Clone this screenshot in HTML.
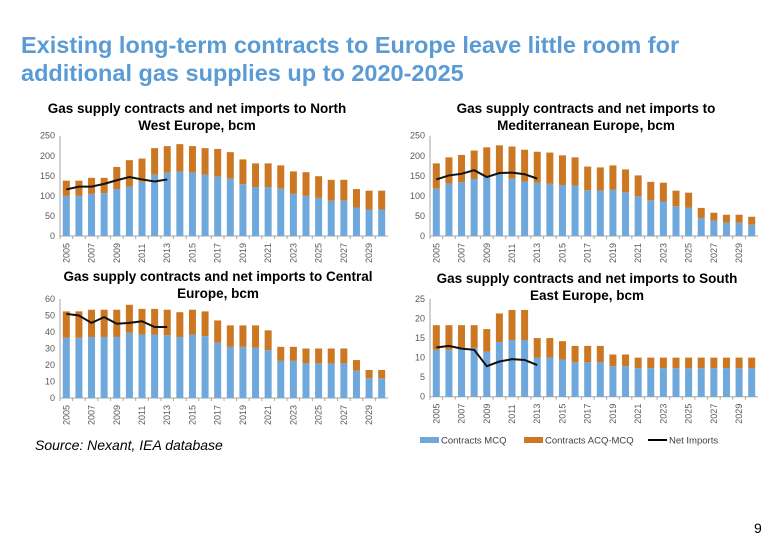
<!DOCTYPE html>
<html><head><meta charset="utf-8"><style>
body{margin:0;background:#fff;width:780px;height:540px;overflow:hidden;font-family:"Liberation Sans",sans-serif}
svg text{font-family:"Liberation Sans",sans-serif}
</style></head><body>
<svg id="s" width="780" height="540">
<text x="21" y="53" font-size="23.5" font-weight="bold" fill="#5b9bd5">Existing long-term contracts to Europe leave little room for</text>
<text x="21" y="81" font-size="23.5" font-weight="bold" fill="#5b9bd5">additional gas supplies up to 2020-2025</text>
<text x="35" y="450" font-size="14" font-style="italic" fill="#000">Source: Nexant, IEA database</text>
<text x="754" y="533" font-size="14" fill="#000">9</text>
<g>
<rect x="420" y="437" width="19" height="6" fill="#6fa8dc"/>
<text x="441" y="443.5" font-size="9.5" fill="#404040">Contracts MCQ</text>
<rect x="524" y="437" width="19" height="6" fill="#cc7722"/>
<text x="545" y="443.5" font-size="9.5" fill="#404040">Contracts ACQ-MCQ</text>
<line x1="648" y1="440" x2="667" y2="440" stroke="#000" stroke-width="2"/>
<text x="669" y="443.5" font-size="9.5" fill="#404040">Net Imports</text>
</g>
</svg>
<script>
const years=[2005,2006,2007,2008,2009,2010,2011,2012,2013,2014,2015,2016,2017,2018,2019,2020,2021,2022,2023,2024,2025,2026,2027,2028,2029,2030];
const nwTotal=[138,138,145,145,172,189,193,219,224,229,224,219,217,209,191,181,181,176,161,159,149,140,140,117,113,113];
const nwMcq=[100,100,105,107,117,123,135,153,158,161,158,153,148,143,129,122,122,118,105,100,95,88,88,71,66,66];
const nwNet=[116,123,123,130,139,147,141,136,141];
const medTotal=[181,196,202,213,221,226,223,215,210,208,201,196,173,171,176,166,151,135,133,113,108,70,58,53,53,48];
const medMcq=[118,131,134,142,148,153,143,136,133,130,127,126,114,113,115,109,99,89,86,74,71,45,38,33,33,28];
const medNet=[141,151,155,164,147,157,158,154,143];
const ceTotal=[52.5,52.5,53.5,53.5,53.5,56.5,54,54,53.5,52,53.5,52.5,47,44,44,44,41,31,31,30,30,30,30,23,17,17];
const ceMcq=[36.5,36.5,37,37,37,39.5,38.5,38.5,38,37,38.5,37.5,33.5,31,31,30.5,29,22.5,22.5,21,21,21,21,16.5,12,12];
const ceNet=[51,50,45.5,49,45,45.5,46.5,43,43];
const seTotal=[18.3,18.3,18.3,18.3,17.3,21.3,22.2,22.2,15,15,14.2,13,13,13,10.8,10.8,10,10,10,10,10,10,10,10,10,10];
const seMcq=[12,12,12.5,12.5,11.5,14,14.5,14.5,10,10,9.5,8.8,8.8,8.8,7.8,7.8,7.3,7.3,7.3,7.3,7.3,7.3,7.3,7.3,7.3,7.3];
const seNet=[12.6,13,12.3,12,7.8,9,9.6,9.4,8.1];
const nwTicks=[0,50,100,150,200,250];
const ceTicks=[0,10,20,30,40,50,60];
const seTicks=[0,5,10,15,20,25];
const NS='http://www.w3.org/2000/svg';
const svg=document.getElementById('s');
function mk(tag,attrs,parent){const e=document.createElementNS(NS,tag);for(const k in attrs)e.setAttribute(k,attrs[k]);(parent||svg).appendChild(e);return e;}
function panel(id,title,cx,ty,x0,x1,yTop,yBot,ticks,total,mcq,net){
  const g=mk('g',{});
  
  
  const max=ticks[ticks.length-1];
  const y=v=>yBot-(v/max)*(yBot-yTop);
  const bw=(x1-x0)/years.length;
  const x=i=>x0+bw*(i+0.5);
  title.forEach((t,k)=>{const e=mk('text',{x:cx,y:ty+k*17,'font-size':13.5,'font-weight':'bold','text-anchor':'middle',fill:'#000',textLength:t.length>30?null:null},g);e.removeAttribute('textLength');e.textContent=t;
    
    });
  ticks.forEach(t=>{const e=mk('text',{x:x0-5,y:y(t)+3,'font-size':9,'text-anchor':'end',fill:'#595959'},g);e.textContent=t;
    
    });
  mk('line',{x1:x0,y1:yTop,x2:x0,y2:yBot,stroke:'#a6a6a6','stroke-width':1},g);
  mk('line',{x1:x0,y1:yBot,x2:x1,y2:yBot,stroke:'#a6a6a6','stroke-width':1},g);
  years.forEach((yr,i)=>{
    mk('line',{x1:x0+bw*i,y1:yBot,x2:x0+bw*i,y2:yBot+3,stroke:'#a6a6a6'},g);
    const b=mk('rect',{x:x(i)-3.5,y:y(mcq[i]),width:7,height:yBot-y(mcq[i]),fill:'#6fa8dc'},g);
    
    
    const o=mk('rect',{x:x(i)-3.5,y:y(total[i]),width:7,height:y(mcq[i])-y(total[i]),fill:'#cc7722'},g);
    
    
    if(i%2===0){const t=mk('text',{transform:`translate(${x(i)+3},${yBot+27}) rotate(-90)`,'font-size':9,fill:'#595959'},g);t.textContent=yr;
      
      }
  });
  const l=mk('polyline',{points:net.map((v,i)=>x(i)+','+y(v)).join(' '),fill:'none',stroke:'#111','stroke-width':2},g);
  
  
}
panel('nw',['Gas supply contracts and net imports to North','West Europe, bcm'],197,113,60,388,135.7,236,nwTicks,nwTotal,nwMcq,nwNet);
panel('med',['Gas supply contracts and net imports to','Mediterranean Europe, bcm'],586,113,430,758,135.7,236,nwTicks,medTotal,medMcq,medNet);
panel('central',['Gas supply contracts and net imports to Central','Europe, bcm'],218,281,60,388,299,398,ceTicks,ceTotal,ceMcq,ceNet);
panel('se',['Gas supply contracts and net imports to South','East Europe, bcm'],587,283,430,758,299,396.7,seTicks,seTotal,seMcq,seNet);
</script>
</body></html>
